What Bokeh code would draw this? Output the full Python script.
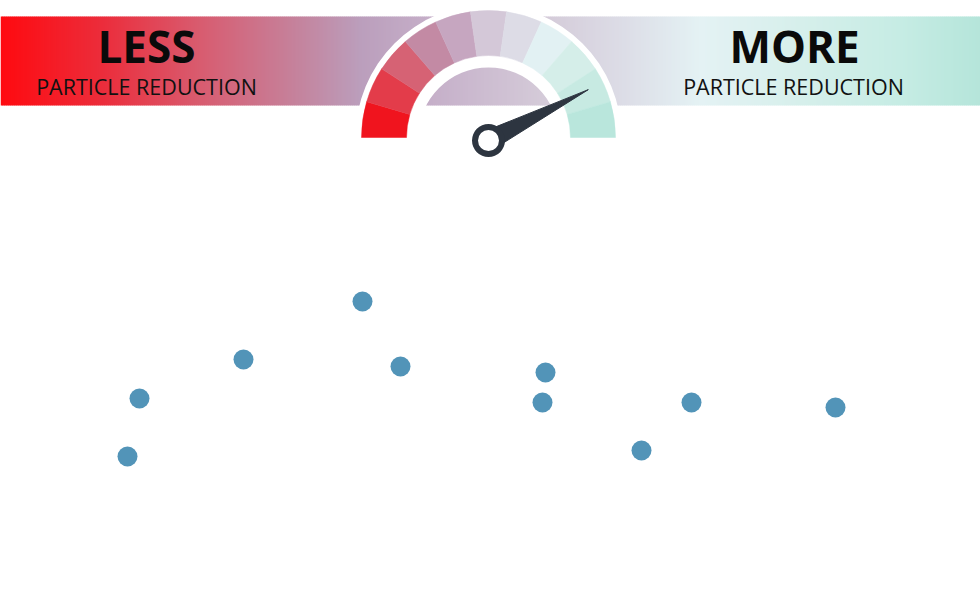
import math
from bokeh.plotting import figure
from bokeh.models import Range1d
from bokeh.embed import file_html
from bokeh.resources import INLINE
from bokeh.core.properties import value

# scatter points (y grows upward)
dot_x = [127, 139, 243, 362, 400, 545, 542, 641, 691, 835]
dot_y = [149, 207, 246, 304, 239, 233, 203, 155, 203, 198]

# gauge: 11 bands from "less" (red) to "more" (mint), needle reading 0..1
band_colors = ["#f0141e", "#e33c4a", "#d66274", "#c38aa4", "#c6a6c0", "#d4c8d8",
               "#dddce6", "#e2f1f3", "#d5eee9", "#c7eae2", "#b9e6dc"]
gauge_value = 0.85

head_labels = ["LESS", "MORE"]
sub_label = "PARTICLE REDUCTION"

# banner gradient stops (x in px, colour)
banner_stops = [(0, "#ff0a10"), (100, "#ec2c3a"), (200, "#d85c70"), (300, "#c4849e"),
                (360, "#bb9ebc"), (450, "#c8b4cc"), (540, "#d4cad8"), (620, "#dcdce6"),
                (700, "#e4f2f4"), (800, "#d6efeb"), (900, "#c6ece4"), (980, "#b5e5da")]


def hex_rgb(h):
    return tuple(int(h[i:i + 2], 16) for i in (1, 3, 5))


def blend(x):
    for (x0, c0), (x1, c1) in zip(banner_stops, banner_stops[1:]):
        if x0 <= x <= x1:
            t = (x - x0) / (x1 - x0)
            a, b = hex_rgb(c0), hex_rgb(c1)
            return "#%02x%02x%02x" % tuple(round(a[i] + (b[i] - a[i]) * t) for i in range(3))
    return banner_stops[-1][1]


W, H = 980, 605
p = figure(width=W, height=H, output_backend="svg", toolbar_location=None,
           x_range=Range1d(0, W), y_range=Range1d(0, H), min_border=0)
p.axis.visible = False
p.grid.visible = False
p.outline_line_color = None
p.background_fill_color = "white"

# banner
step = 2
lefts = list(range(0, W, step))
p.quad(left=lefts, right=[l + step + 0.6 for l in lefts], top=H - 16, bottom=H - 105,
       fill_color=[blend(l + step / 2) for l in lefts], line_color=None)

# gauge
cx, cy = 488, H - 137
p.annular_wedge(x=cx, y=cy, inner_radius=70, outer_radius=133, start_angle=0, end_angle=math.pi,
                fill_color="white", line_color=None)
n = len(band_colors)
starts = [math.pi - (i + 1) * math.pi / n for i in range(n)]
ends = [math.pi - i * math.pi / n for i in range(n)]
p.annular_wedge(x=cx, y=cy, inner_radius=82, outer_radius=127, start_angle=starts, end_angle=ends,
                fill_color=band_colors, line_color=band_colors, line_width=0.5)

# needle
px, py = 488, H - 140
ang = math.pi * (1 - gauge_value)
length, half = 112, 10
tip = (px + length * math.cos(ang), py + length * math.sin(ang))
b1 = (px - half * math.sin(ang), py + half * math.cos(ang))
b2 = (px + half * math.sin(ang), py - half * math.cos(ang))
p.patch([b1[0], tip[0], b2[0]], [b1[1], tip[1], b2[1]], fill_color="#2d3540", line_color="#2d3540")
p.circle(x=px, y=py, radius=16.5, fill_color="#2d3540", line_color=None)
p.circle(x=px, y=py, radius=10.5, fill_color="white", line_color=None)

# labels
p.text(x=[146, 794], y=[H - 65, H - 65], text=head_labels, text_font=value("Open Sans"),
       text_font_style="bold", text_font_size="44px", text_align="center",
       text_baseline="bottom", text_color="#0a0a0a", y_offset=10)
p.text(x=[146, 793], y=[H - 95, H - 95], text=[sub_label, sub_label],
       text_font=value("Open Sans"), text_font_size="21.5px", text_align="center",
       text_baseline="bottom", text_color="#111111", y_offset=5)

# points
p.scatter(dot_x, dot_y, size=20, fill_color="#5294b8", line_color=None)

open("out.html", "w").write(file_html(p, INLINE))
